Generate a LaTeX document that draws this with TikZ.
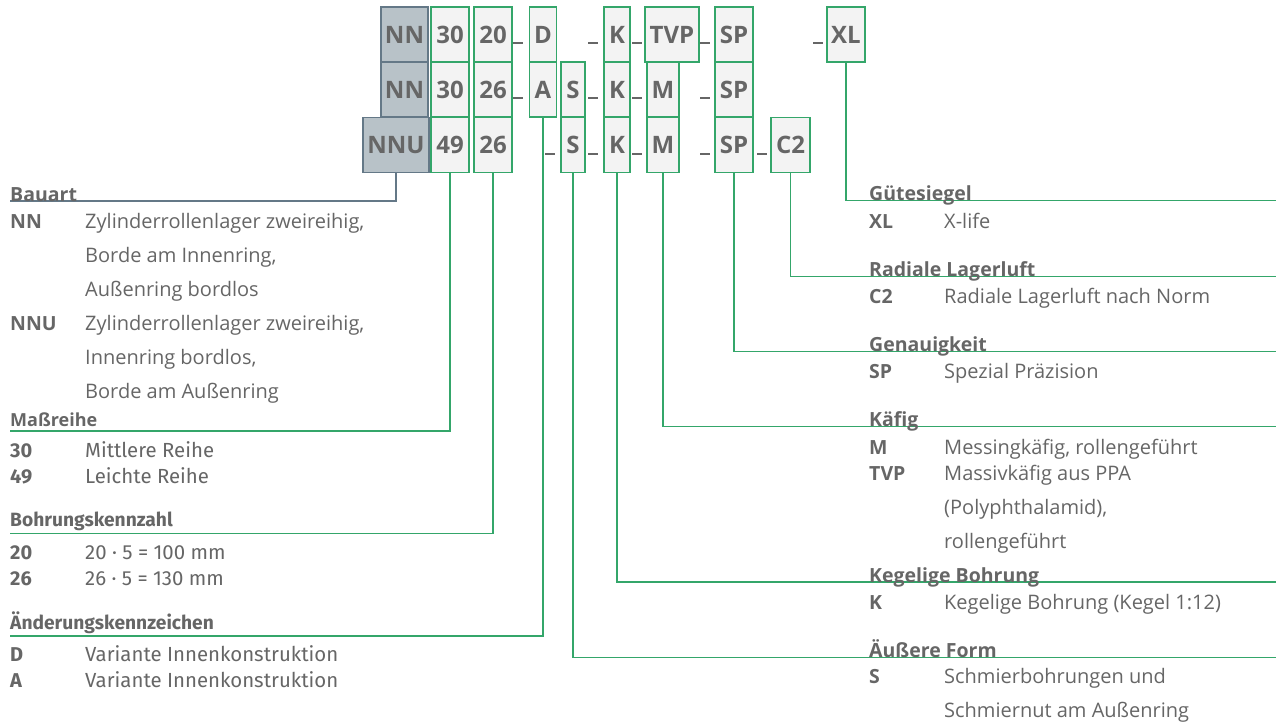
\documentclass[tikz,border=0pt]{standalone}
\usepackage{fontspec}
\setmainfont{Open Sans}
\newfontfamily\firafont{Fira Sans}
\usetikzlibrary{positioning}

\definecolor{codegreen}{RGB}{52,166,106}
\definecolor{boxfill}{RGB}{243,243,243}
\definecolor{typefill}{RGB}{184,194,200}
\definecolor{typedraw}{RGB}{100,120,135}
\definecolor{txtgray}{RGB}{102,102,102}

\begin{document}
\begin{tikzpicture}[
    x=1pt, y=-1pt,
    codebox/.style={
      draw=codegreen,
      line width=1.3pt,
      fill=boxfill,
      minimum height=55pt,
      inner sep=0pt,
      text=txtgray,
      font=\fontsize{24}{24}\selectfont\bfseries
    },
    typebox/.style={
      codebox,
      draw=typedraw,
      fill=typefill
    },
    sepbar/.style={draw=txtgray, line width=2.6pt},
    lead/.style={draw=codegreen, line width=1.3pt},
    headtxt/.style={
      anchor=base west,
      inner sep=0pt,
      text=txtgray,
      font=\fontsize{19.5}{22}\selectfont\bfseries
    },
    keytxt/.style={headtxt},
    desctxt/.style={
      anchor=base west,
      inner sep=0pt,
      text=txtgray,
      font=\fontsize{20}{22}\selectfont
    },
    firahead/.style={headtxt, font=\firafont\fontsize{19.2}{22}\selectfont\bfseries},
    firakey/.style={headtxt, font=\firafont\fontsize{20}{22}\selectfont\bfseries},
    firadesc/.style={desctxt, font=\firafont\fontsize{20.4}{22}\selectfont}
  ]
    \useasboundingbox (0,0) rectangle (1276,724);

    % row 1: NN 3020 D K TVP SP XL
    \node[typebox, minimum width=47pt] (r1nn) at (404.5,34.5) {NN};
    \node[codebox, minimum width=38pt] (r1n30) at (450,34.5) {30};
    \node[codebox, minimum width=38pt] (r1n20) at (493,34.5) {20};
    \node[codebox, minimum width=27pt] (r1d) at (543,34.5) {D};
    \node[codebox, minimum width=26pt] (r1k) at (617,34.5) {K};
    \node[codebox, minimum width=54pt] (r1tvp) at (672,34.5) {TVP};
    \node[codebox, minimum width=38pt] (r1sp) at (734,34.5) {SP};
    \node[codebox, minimum width=38pt] (r1xl) at (846,34.5) {XL};

    % row 2: NN 3026 A S K M SP
    \node[typebox, minimum width=47pt] (r2nn) at (404.5,89.5) {NN};
    \node[codebox, minimum width=38pt] (r2n30) at (450,89.5) {30};
    \node[codebox, minimum width=38pt] (r2n26) at (493,89.5) {26};
    \node[codebox, minimum width=27pt] (r2a) at (543,89.5) {A};
    \node[codebox, minimum width=24pt] (r2s) at (573,89.5) {S};
    \node[codebox, minimum width=26pt] (r2k) at (617,89.5) {K};
    \node[codebox, minimum width=32pt] (r2m) at (663,89.5) {M};
    \node[codebox, minimum width=38pt] (r2sp) at (734,89.5) {SP};

    % row 3: NNU 4926 S K M SP C2
    \node[typebox, minimum width=66pt] (r3nnu) at (396,145) {NNU};
    \node[codebox, minimum width=38pt] (r3n49) at (450,145) {49};
    \node[codebox, minimum width=38pt] (r3n26) at (493,145) {26};
    \node[codebox, minimum width=24pt] (r3s) at (573,145) {S};
    \node[codebox, minimum width=26pt] (r3k) at (617,145) {K};
    \node[codebox, minimum width=32pt] (r3m) at (663,145) {M};
    \node[codebox, minimum width=38pt] (r3sp) at (734,145) {SP};
    \node[codebox, minimum width=39pt] (r3c2) at (790.5,145) {C2};

    % separators
    \draw[sepbar] (513,43) -- (523,43);
    \draw[sepbar] (588,43) -- (598,43);
    \draw[sepbar] (632,43) -- (642,43);
    \draw[sepbar] (700,43) -- (710,43);
    \draw[sepbar] (813,43) -- (823,43);
    \draw[sepbar] (513,98) -- (523,98);
    \draw[sepbar] (588,98) -- (598,98);
    \draw[sepbar] (632,98) -- (642,98);
    \draw[sepbar] (700,98) -- (710,98);
    \draw[sepbar] (545,154) -- (555,154);
    \draw[sepbar] (588,154) -- (598,154);
    \draw[sepbar] (632,154) -- (642,154);
    \draw[sepbar] (700,154) -- (710,154);
    \draw[sepbar] (757,154) -- (767,154);

    % line ends
    \coordinate (eBauart) at (10,201);
    \coordinate (eMass) at (10,431);
    \coordinate (eBohr) at (10,533.5);
    \coordinate (eAend) at (10,636);
    \coordinate (eGuete) at (1276,200.7);
    \coordinate (eLuft) at (1276,276.5);
    \coordinate (eGenau) at (1276,351.7);
    \coordinate (eKaefig) at (1276,426.7);
    \coordinate (eKegel) at (1276,582);
    \coordinate (eForm) at (1276,657.3);

    \draw[lead, draw=typedraw] (r3nnu.south) |- (eBauart);
    \draw[lead] (r3n49.south) |- (eMass);
    \draw[lead] (r3n26.south) |- (eBohr);
    \draw[lead] (r2a.south) |- (eAend);
    \draw[lead] (r3s.south) |- (eForm);
    \draw[lead] (r3k.south) |- (eKegel);
    \draw[lead] (r3m.south) |- (eKaefig);
    \draw[lead] (r3sp.south) |- (eGenau);
    \draw[lead] (r3c2.south) |- (eLuft);
    \draw[lead] (r1xl.south) |- (eGuete);

    % left column
    \node[headtxt] (hBauart) at (10,201) {Bauart};
    \node[keytxt] (kNN) at (10,228) {NN};
    \node[desctxt] (dNNa) at (85,228) {Zylinderrollenlager zweireihig,};
    \node[desctxt] (dNNb) at (85,262) {Borde am Innenring,};
    \node[desctxt] (dNNc) at (85,296) {Außenring bordlos};
    \node[keytxt] (kNNU) at (10,330) {NNU};
    \node[desctxt] (dNNUa) at (85,330) {Zylinderrollenlager zweireihig,};
    \node[desctxt] (dNNUb) at (85,364) {Innenring bordlos,};
    \node[desctxt] (dNNUc) at (85,398) {Borde am Außenring};

    \node[headtxt, font=\fontsize{18}{20}\selectfont\bfseries] (hMass) at (10,426) {Maßreihe};
    \node[firakey] (k30) at (10,457) {30};
    \node[firadesc] (d30) at (85,457) {Mittlere Reihe};
    \node[firakey] (k49) at (10,483) {49};
    \node[firadesc] (d49) at (85,483) {Leichte Reihe};

    \node[firahead] (hBohr) at (10,526.5) {Bohrungskennzahl};
    \node[firakey] (k20) at (10,559) {20};
    \node[firadesc] (d20) at (85,559) {20 · 5 = 100 mm};
    \node[firakey] (k26) at (10,585) {26};
    \node[firadesc] (d26) at (85,585) {26 · 5 = 130 mm};

    \node[firahead] (hAend) at (10,629) {Änderungskennzeichen};
    \node[firakey] (kD) at (10,661) {D};
    \node[firadesc] (dD) at (85,661) {Variante Innenkonstruktion};
    \node[firakey] (kA) at (10,687) {A};
    \node[firadesc] (dA) at (85,687) {Variante Innenkonstruktion};

    % right column
    \node[headtxt] (hGuete) at (869,200.7) {Gütesiegel};
    \node[keytxt] (kXL) at (869,228) {XL};
    \node[desctxt] (dXL) at (944,228) {X-life};

    \node[headtxt] (hLuft) at (869,276.5) {Radiale Lagerluft};
    \node[keytxt] (kC2) at (869,303) {C2};
    \node[desctxt] (dC2) at (944,303) {Radiale Lagerluft nach Norm};

    \node[headtxt] (hGenau) at (869,351.7) {Genauigkeit};
    \node[keytxt] (kSP) at (869,378) {SP};
    \node[desctxt] (dSP) at (944,378) {Spezial Präzision};

    \node[headtxt] (hKaefig) at (869,426.7) {Käfig};
    \node[keytxt] (kM) at (869,454) {M};
    \node[desctxt] (dM) at (944,454) {Messingkäfig, rollengeführt};
    \node[keytxt] (kTVP) at (869,480) {TVP};
    \node[desctxt] (dTVPa) at (944,480) {Massivkäfig aus PPA};
    \node[desctxt] (dTVPb) at (944,514) {(Polyphthalamid),};
    \node[desctxt] (dTVPc) at (944,548) {rollengeführt};

    \node[headtxt] (hKegel) at (869,582) {Kegelige Bohrung};
    \node[keytxt] (kK) at (869,609) {K};
    \node[desctxt] (dK) at (944,609) {Kegelige Bohrung (Kegel 1:12)};

    \node[headtxt] (hForm) at (869,657.3) {Äußere Form};
    \node[keytxt] (kS) at (869,683) {S};
    \node[desctxt] (dSa) at (944,683) {Schmierbohrungen und};
    \node[desctxt] (dSb) at (944,717) {Schmiernut am Außenring};
  \end{tikzpicture}
\end{document}
